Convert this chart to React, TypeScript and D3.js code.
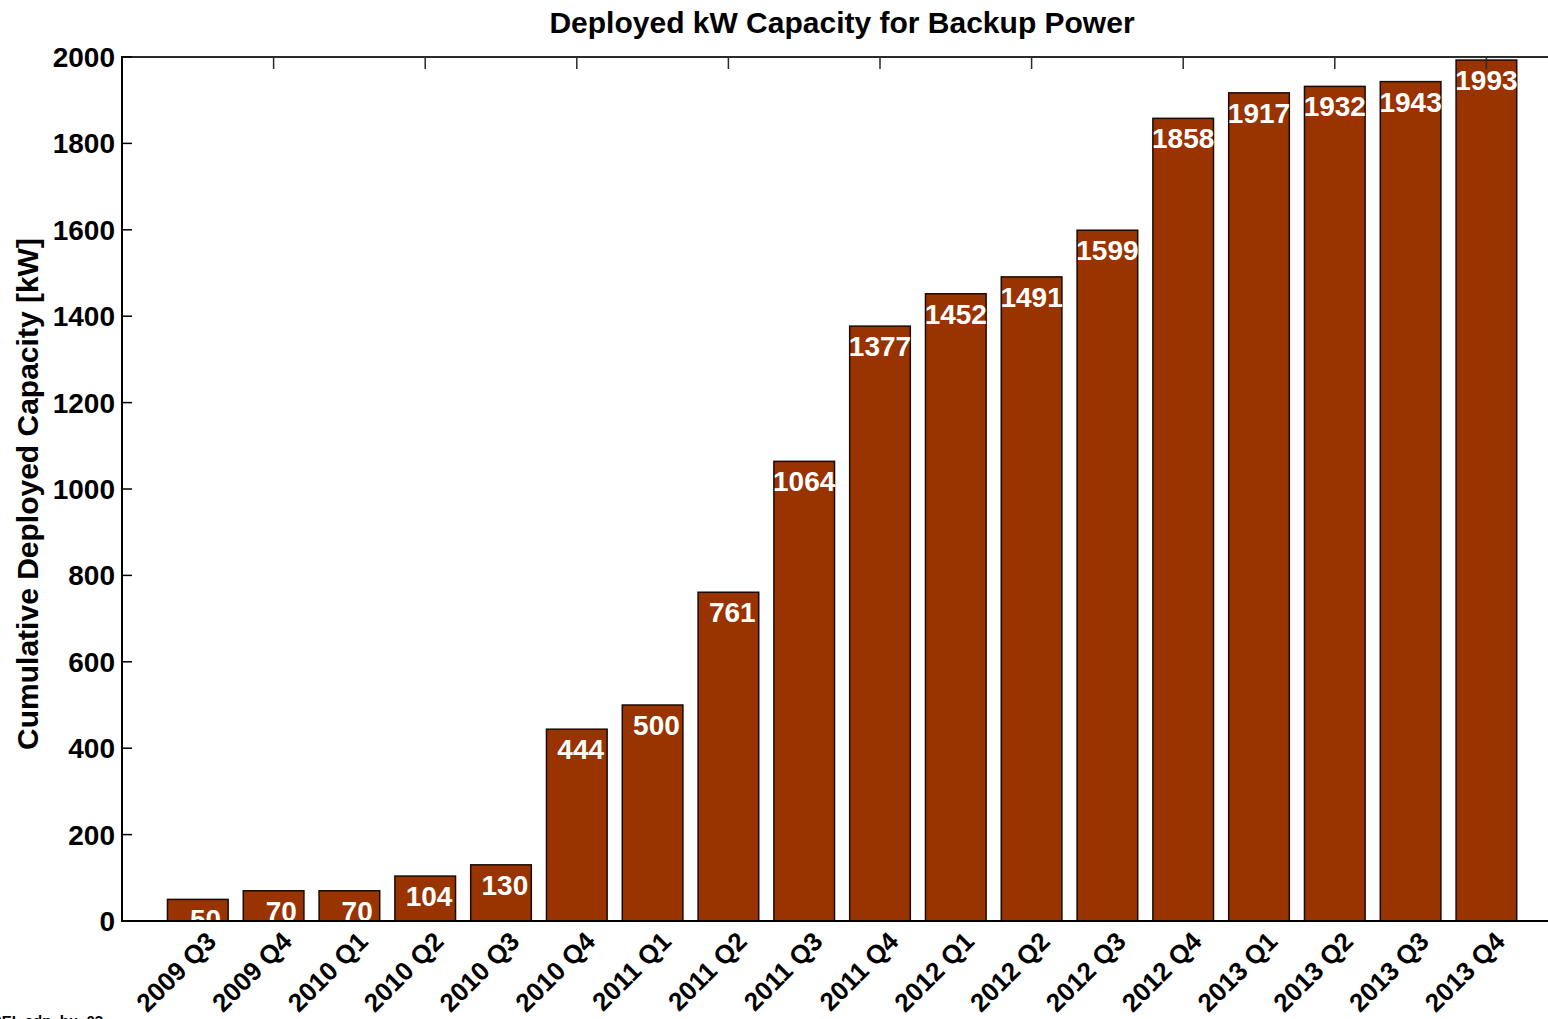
import React from "react";
import * as d3 from "d3";

const categories = [
  "2009 Q3", "2009 Q4", "2010 Q1", "2010 Q2", "2010 Q3", "2010 Q4",
  "2011 Q1", "2011 Q2", "2011 Q3", "2011 Q4", "2012 Q1", "2012 Q2",
  "2012 Q3", "2012 Q4", "2013 Q1", "2013 Q2", "2013 Q3", "2013 Q4",
];
const values = [50, 70, 70, 104, 130, 444, 500, 761, 1064, 1377, 1452, 1491, 1599, 1858, 1917, 1932, 1943, 1993];
const yTicks = [0, 200, 400, 600, 800, 1000, 1200, 1400, 1600, 1800, 2000];
const topTickIdx = [1, 3, 5, 7, 9, 11, 13, 15, 17];

const W = 1548;
const H = 1019;
const left = 122;
const top = 57;
const bottom = 921;
const step = 75.8;
const right = left + 19 * step;

const FONT = "Liberation Sans, Arial, sans-serif";

export default function App() {
  const x = d3.scaleLinear().domain([-1, 18]).range([left, right]);
  const y = d3.scaleLinear().domain([0, 2000]).range([bottom, top]);
  const bw = step * 0.8;

  return (
    <svg width={W} height={H} style={{ position: "absolute", left: 0, top: 0 }} fontFamily={FONT}>
      <defs>
        <clipPath id="plot">
          <rect x={left} y={top} width={right - left} height={bottom - top} />
        </clipPath>
      </defs>
      <rect x={0} y={0} width={W} height={H} fill="#fff" />
      <text x={842} y={33} textAnchor="middle" fontSize={30} fontWeight="bold" fill="#000">
        Deployed kW Capacity for Backup Power
      </text>
      <g clipPath="url(#plot)">
        {values.map((v, i) => (
          <rect key={i} x={x(i) - bw / 2} y={y(v)} width={bw} height={bottom - y(v)}
            fill="#993300" stroke="#1a0a00" strokeWidth={1.5} />
        ))}
        {values.map((v, i) => (
          <text key={"l" + i} x={x(i)} y={y(v) + 30} textAnchor="middle" fontSize={28}
            fontWeight="bold" fill="#fff" style={{ whiteSpace: "pre" }}>
            {String(v).padStart(4, " ")}
          </text>
        ))}
      </g>
      {/* axes */}
      <line x1={left} y1={top} x2={W} y2={top} stroke="#2a2a2a" strokeWidth={2} />
      <line x1={left} y1={top - 1} x2={left} y2={bottom + 1} stroke="#000" strokeWidth={2} />
      <line x1={left - 1} y1={bottom} x2={W} y2={bottom} stroke="#000" strokeWidth={2} />
      {topTickIdx.map((i) => (
        <line key={"tt" + i} x1={x(i)} y1={top} x2={x(i)} y2={top + 12} stroke="#2a2a2a" strokeWidth={1.5} />
      ))}
      {yTicks.map((t) => (
        <g key={"yt" + t}>
          <line x1={left} y1={y(t)} x2={left + 10} y2={y(t)} stroke="#000" strokeWidth={1.5} />
          <text x={115} y={y(t) + 10} textAnchor="end" fontSize={28} fontWeight="bold" fill="#000">
            {t}
          </text>
        </g>
      ))}
      {categories.map((c, i) => (
        <text key={"xl" + i} transform={`translate(${x(i) + 20},${943}) rotate(-45)`}
          textAnchor="end" fontSize={26} fontWeight="bold" fill="#000">
          {c}
        </text>
      ))}
      <text transform={`translate(38,494) rotate(-90)`} textAnchor="middle" fontSize={30}
        fontWeight="bold" fill="#000">
        Cumulative Deployed Capacity [kW]
      </text>
      <text x={-20} y={1026} fontSize={15} fontWeight="bold" fill="#000">NREL cdp_bu_03</text>
    </svg>
  );
}
